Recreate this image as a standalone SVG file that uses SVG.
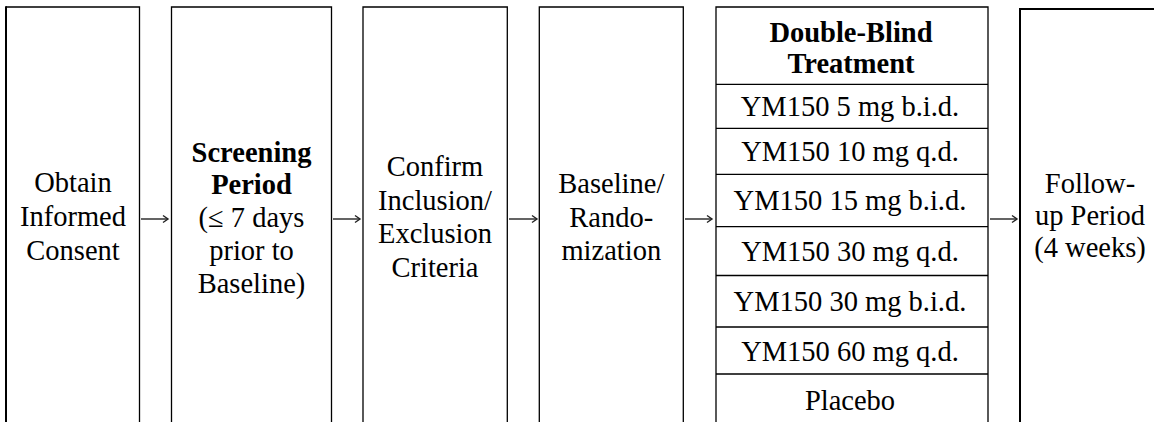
<svg xmlns="http://www.w3.org/2000/svg" width="1154" height="422" viewBox="0 0 1154 422">
<defs>
<style>
.b{fill:none;stroke:#000;stroke-width:1.3}
.t{font-size:28.5px;fill:#000;text-anchor:middle}
.bold{font-weight:bold}
.c{stroke:#222;stroke-width:1.4;fill:none}
</style>
<marker id="ah" markerWidth="10" markerHeight="10" refX="8" refY="5" orient="auto" markerUnits="userSpaceOnUse">
<path d="M3,1.5 L8,5 L3,8.5" fill="none" stroke="#222" stroke-width="1.4"/>
</marker>
</defs>
<rect width="1154" height="422" fill="#fff"/>
<g font-family="Liberation Serif, Times New Roman, serif">
<g id="consent">
<path class="b" d="M139.5,422 V7 H6"/>
<path d="M6,422 V6.3" stroke="#000" stroke-width="2" fill="none"/>
<text class="t" x="73" y="192">Obtain</text>
<text class="t" x="73" y="226">Informed</text>
<text class="t" x="73" y="260">Consent</text>
</g>
<g id="screening">
<path class="b" d="M171.5,422 V7 H331.5 V422"/>
<text class="t bold" x="251.5" y="162">Screening</text>
<text class="t bold" x="251.5" y="194">Period</text>
<text class="t" x="251.5" y="227">(≤ 7 days</text>
<text class="t" x="251.5" y="260">prior to</text>
<text class="t" x="251.5" y="293">Baseline)</text>
</g>
<g id="criteria">
<path class="b" d="M363,422 V7 H507.3 V422"/>
<text class="t" x="435" y="176">Confirm</text>
<text class="t" x="435" y="210">Inclusion/</text>
<text class="t" x="435" y="243">Exclusion</text>
<text class="t" x="435" y="277">Criteria</text>
</g>
<g id="randomization">
<path class="b" d="M539.3,422 V7 H683.3 V422"/>
<text class="t" x="611.3" y="193">Baseline/</text>
<text class="t" x="611.3" y="227">Rando-</text>
<text class="t" x="611.3" y="260">mization</text>
</g>
<g id="treatment">
<path class="b" d="M716,422 V7 H988 V422"/>
<path class="b" d="M716,84.3 H988 M716,128.3 H988 M716,174.3 H988 M716,226.7 H988 M716,275.5 H988 M716,327 H988 M716,374 H988"/>
<text class="t bold" x="851" y="42">Double-Blind</text>
<text class="t bold" x="851" y="73">Treatment</text>
<text class="t" x="850" y="116">YM150 5 mg b.i.d.</text>
<text class="t" x="850" y="161">YM150 10 mg q.d.</text>
<text class="t" x="850" y="210">YM150 15 mg b.i.d.</text>
<text class="t" x="850" y="261">YM150 30 mg q.d.</text>
<text class="t" x="850" y="311">YM150 30 mg b.i.d.</text>
<text class="t" x="850" y="361">YM150 60 mg q.d.</text>
<text class="t" x="850" y="410">Placebo</text>
</g>
<g id="followup">
<path d="M1020,422 V9 H1154" fill="none" stroke="#000" stroke-width="2"/>
<text class="t" x="1090" y="193">Follow-</text>
<text class="t" x="1090" y="225">up Period</text>
<text class="t" x="1090" y="257">(4 weeks)</text>
</g>
</g>
<g id="connectors">
<line class="c" x1="141" y1="219" x2="168" y2="219" marker-end="url(#ah)"/>
<line class="c" x1="333" y1="219" x2="360" y2="219" marker-end="url(#ah)"/>
<line class="c" x1="509" y1="219" x2="537" y2="219" marker-end="url(#ah)"/>
<line class="c" x1="685" y1="219" x2="712" y2="219" marker-end="url(#ah)"/>
<line class="c" x1="990" y1="219" x2="1017" y2="219" marker-end="url(#ah)"/>
</g>
</svg>
